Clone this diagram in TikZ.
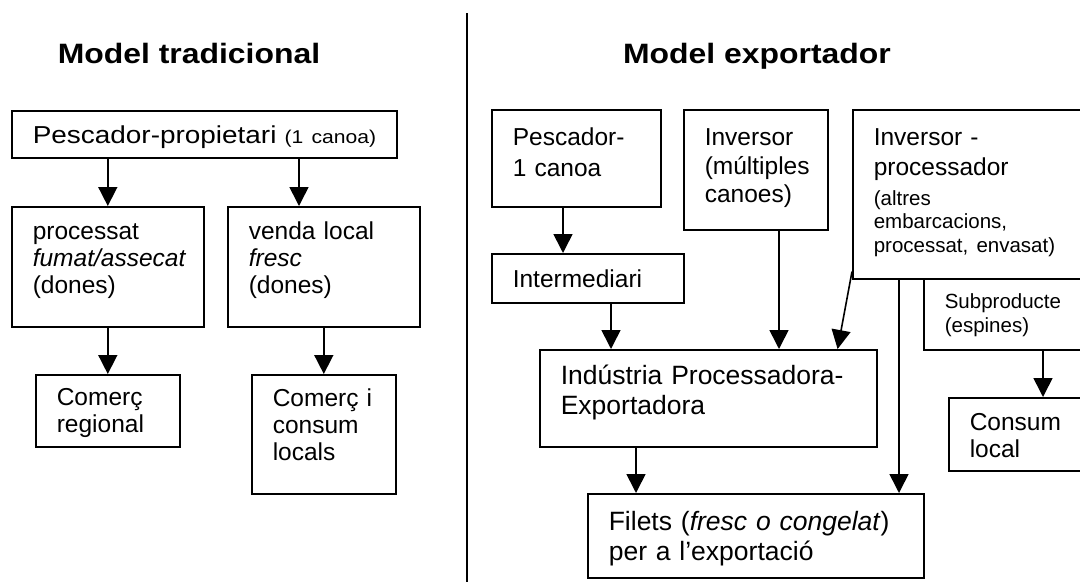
\documentclass[tikz,border=0pt]{standalone}
\usepackage{fontspec}
\setmainfont{Liberation Sans}
\newfontfamily\widefont{Liberation Sans}[FakeStretch=1.14]
\usetikzlibrary{arrows.meta}

\tikzset{
  box/.style={draw, line width=1.6pt, anchor=north west, align=left, inner xsep=21pt, inner ysep=0pt,
    execute at begin node={\hyphenpenalty=10000\exhyphenpenalty=10000}},
  txt/.style={font=\fontsize{24.5}{27}\selectfont},
  bigtxt/.style={font=\fontsize{26.5}{30}\selectfont},
  smalltxt/.style={font=\fontsize{20.5}{24}\selectfont},
  titletxt/.style={font=\widefont\bfseries\fontsize{28}{32}\selectfont, anchor=base},
  arr/.style={line width=1.6pt, -{Triangle[length=19pt,width=19pt]}}
}

\begin{document}
\begin{tikzpicture}[x=1pt,y=-1pt]
    \useasboundingbox (0,0) rectangle (1080,582);
    \clip (0,0) rectangle (1080,582);

    % titles and divider
    \node[titletxt] (tradicional) at (189,63) {Model tradicional};
    \node[titletxt] (exportador) at (757,63) {Model exportador};
    \draw[line width=1.2pt] (467,13) -- (467,582);

    % traditional model
    \node[box, font=\widefont\fontsize{24.5}{27}\selectfont, text width=343pt, text height=33pt, text depth=14pt] (pescador) at (11,110)
        {\mbox{Pescador-propietari {\fontsize{18.5}{22}\selectfont (1 canoa)}}};
    \node[box, txt, text width=150pt, text height=33pt, text depth=87pt] (processat) at (11,206)
        {processat\\ \textit{fumat/assecat}\\ (dones)};
    \node[box, txt, text width=150pt, text height=33pt, text depth=87pt] (venda) at (227,206)
        {venda local\\ \textit{fresc}\\ (dones)};
    \node[box, txt, text width=102pt, text height=31pt, text depth=41pt] (regional) at (35,374)
        {Comerç\\ regional};
    \node[box, txt, text width=102pt, text height=32pt, text depth=87pt] (locals) at (251,374)
        {Comerç i\\ consum\\ locals};

    \draw[arr] (pescador.south -| processat.north) -- (processat.north);
    \coordinate (vendain) at ([xshift=72pt]venda.north west);
    \draw[arr] (pescador.south -| vendain) -- (vendain);
    \draw[arr] (processat.south) -- (regional.north);
    \draw[arr] (venda.south) -- (locals.north);

    % export model
    \node[box, txt, text width=127pt, text height=36pt, text depth=61pt] (canoa) at (491,109)
        {Pescador-\\[4pt] 1 canoa};
    \node[box, txt, text width=102pt, text height=36pt, text depth=84pt] (inversor) at (683,109)
        {Inversor\\[1.5pt] (múltiples\\[1.5pt] canoes)};
    \node[box, font=\fontsize{24.5}{23.5}\selectfont, text width=250pt, text height=36pt, text depth=133pt] (processador) at (852,109)
        {Inversor -\\[6.5pt] processador\\[6pt] {\fontsize{20.5}{23.5}\selectfont (altres\\ embarcacions,\\ processat, envasat)}};
    \node[box, txt, text width=150pt, text height=34pt, text depth=15pt] (intermediari) at (491,253)
        {Intermediari};
    \node[box, bigtxt, text width=295pt, text height=35pt, text depth=62pt] (industria) at (539,349)
        {Indústria Processadora-\\ Exportadora};
    \node[box, bigtxt, text width=294pt, text height=37pt, text depth=47pt] (filets) at (587,493)
        {Filets (\textit{fresc o congelat})\\ per a l’exportació};
    \node[box, smalltxt, text width=200pt, text height=30pt, text depth=41pt] (subproducte) at (923,278)
        {Subproducte\\ (espines)};
    \node[box, txt, text width=150pt, text height=33pt, text depth=40pt] (consum) at (948,397)
        {Consum\\ local};

    \coordinate (midin) at ([xshift=72pt]intermediari.north west);
    \draw[arr] (canoa.south -| midin) -- (midin);
    \coordinate (indin) at ([xshift=72pt]industria.north west);
    \draw[arr] (intermediari.south -| indin) -- (indin);
    \coordinate (invout) at ([xshift=96pt]inversor.south west);
    \draw[arr] (invout) -- (industria.north -| invout);
    \draw[arr] ([yshift=8pt]processador.south west) -- ([xshift=-40pt]industria.north east);
    \coordinate (ipout) at ([xshift=47pt]processador.south west);
    \draw[arr] (ipout) -- (filets.north -| ipout);
    \coordinate (indout) at ([xshift=97pt]industria.south west);
    \draw[arr] (indout) -- (filets.north -| indout);
    \coordinate (subout) at ([xshift=120pt]subproducte.south west);
    \draw[arr] (subout) -- (consum.north -| subout);
\end{tikzpicture}
\end{document}
